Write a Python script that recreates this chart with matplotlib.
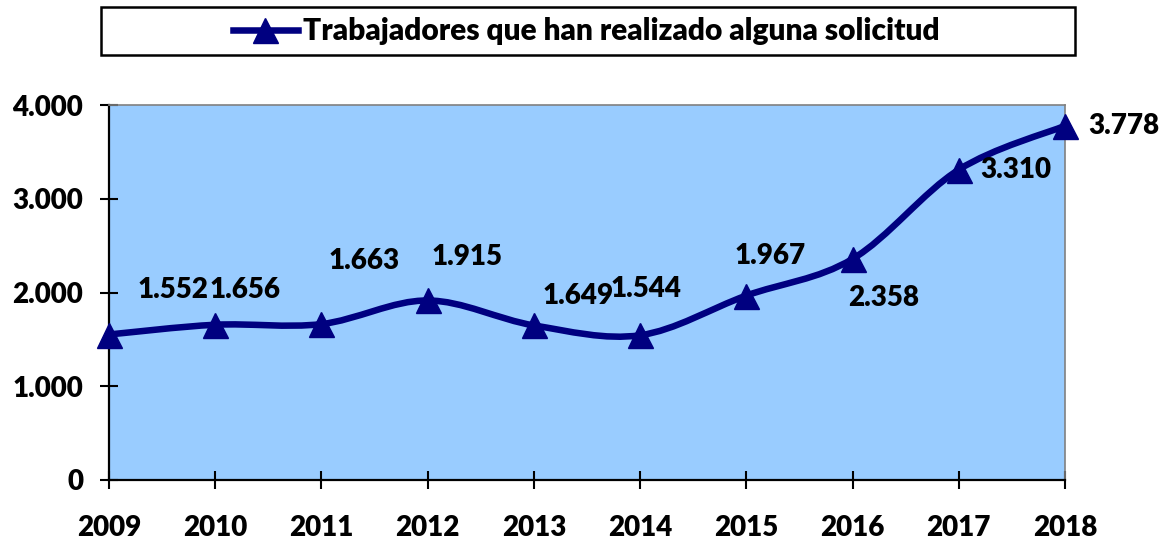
import matplotlib.pyplot as plt
import numpy as np
from matplotlib.path import Path
from matplotlib.patches import PathPatch, Rectangle
from matplotlib.lines import Line2D
from matplotlib.ticker import FuncFormatter

# Daten
years = ["2009", "2010", "2011", "2012", "2013", "2014", "2015", "2016", "2017", "2018"]
trabajadores = [1552, 1656, 1663, 1915, 1649, 1544, 1967, 2358, 3310, 3778]
serie_label = "Trabajadores que han realizado alguna solicitud"

# Position der Datenbeschriftungen (Pixel relativ zum Punkt)
label_offsets = [(64, 45), (30, 35), (43, 63), (39, 43), (44, 29),
                 (6, 46), (24, 40), (31, -39), (57, 0), (59, 0)]

navy = "#000080"
weight = 'heavy'
plt.rcParams['font.family'] = ['Lato', 'DejaVu Sans']
plt.rcParams['font.weight'] = weight


def fmt_miles(v):
    return f"{int(round(v)):,}".replace(",", ".")


fig = plt.figure(figsize=(11.73, 5.44), dpi=100)
ax = fig.add_axes([109 / 1173, 1 - 480 / 544, (1065 - 109) / 1173, (480 - 105) / 544])
ax.set_facecolor("#99CCFF")

x = np.arange(len(years))
y = np.array(trabajadores, dtype=float)

# geglättete Linie wie in Excel (Bezier, Catmull-Rom)
pts = np.column_stack([x, y])
ext = np.vstack([pts[0], pts, pts[-1]])
verts = [tuple(pts[0])]
codes = [Path.MOVETO]
for i in range(len(pts) - 1):
    p0, p1, p2, p3 = ext[i], ext[i + 1], ext[i + 2], ext[i + 3]
    c1 = p1 + (p2 - p0) / 6
    c2 = p2 - (p3 - p1) / 6
    verts += [tuple(c1), tuple(c2), tuple(p2)]
    codes += [Path.CURVE4] * 3
ax.add_patch(PathPatch(Path(verts, codes), fill=False, edgecolor=navy,
                       linewidth=4.7, capstyle='round', joinstyle='round', clip_on=False))
ax.plot(x, y, linestyle='none', marker='^', markersize=18, color=navy, clip_on=False, zorder=3)

for xi, yi, (dx, dy) in zip(x, y, label_offsets):
    ax.annotate(fmt_miles(yi), (xi, yi), xytext=(dx, dy), textcoords='offset pixels',
                ha='center', va='center', fontsize=20, fontweight=weight)

ax.set_xlim(0, len(years) - 1)
ax.set_ylim(0, 4000)
ax.set_xticks(x)
ax.set_xticklabels(years)
ax.set_yticks([0, 1000, 2000, 3000, 4000])
ax.yaxis.set_major_formatter(FuncFormatter(lambda v, p: fmt_miles(v)))
ax.tick_params(axis='both', direction='inout', length=13, width=1.5, labelsize=20)
ax.tick_params(axis='x', pad=19)
ax.tick_params(axis='y', pad=12)
for lab in ax.get_xticklabels() + ax.get_yticklabels():
    lab.set_fontweight(weight)

for side in ['left', 'bottom']:
    ax.spines[side].set_linewidth(1.6)
    ax.spines[side].set_color('black')
for side in ['top', 'right']:
    ax.spines[side].set_linewidth(1.2)
    ax.spines[side].set_color('#808080')

# Legende mit Rahmen
fig.patches.append(Rectangle((101 / 1173, 1 - 55 / 544), 974 / 1173, 48 / 544,
                             transform=fig.transFigure, fill=True, facecolor='white',
                             edgecolor='black', linewidth=1.8))
handle = Line2D([], [], color=navy, linewidth=4.7, marker='^', markersize=18)
fig.legend([handle], [serie_label], loc='center', bbox_to_anchor=(586 / 1173, 1 - 31 / 544),
           frameon=False, handlelength=2.2, handletextpad=0.15,
           prop={'weight': weight, 'size': 21.5})

fig.savefig("out.png", dpi=100)
